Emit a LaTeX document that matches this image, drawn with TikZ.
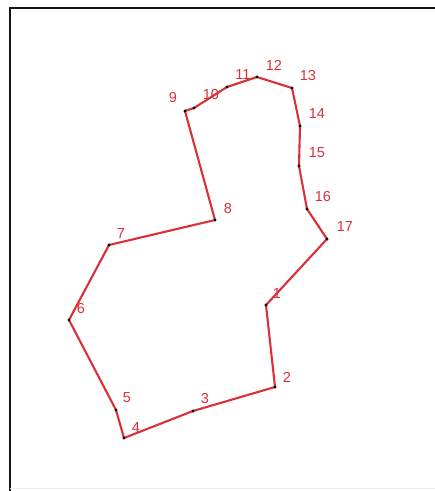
\documentclass[tikz,border=0pt]{standalone}
\usepackage{fontspec}
\setmainfont{Liberation Sans}
\usepackage{tikz}
\usetikzlibrary{calc}
\definecolor{routered}{RGB}{218, 48, 56}
\definecolor{framedark}{RGB}{20, 20, 20}

\begin{document}
\begin{tikzpicture}[x=1pt, y=-1pt,
  stoplabel/.style={text=routered, font=\fontsize{14.5}{14.5}\selectfont, inner sep=0pt}]
  \useasboundingbox (0,0) rectangle (435,491);
  % Frame - left and top edges only
  \draw[framedark, line width=2.4pt] (10,491) -- (10,8) -- (435,8);
  \draw[gray!15, thin] (10,488.5) -- (435,488.5);
  % Stops of the route
  \foreach \i/\x/\y in {1/266/305, 2/275/387, 3/193/411, 4/124/438, 5/116/410,
                        6/69/320, 7/109/245, 8/215/220, 9/185/111, 10/194/108,
                        11/227/87, 12/257/77, 13/292/88, 14/300/126, 15/299/166,
                        16/307/209, 17/327/239} {
    \coordinate (p\i) at (\x,\y);
  }
  % The closed route
  \draw[routered, line width=2.1pt, line join=round]
    (p1) -- (p2) -- (p3) -- (p4) -- (p5) -- (p6) -- (p7) -- (p8) -- (p9) -- (p10)
    -- (p11) -- (p12) -- (p13) -- (p14) -- (p15) -- (p16) -- (p17) -- cycle;
  % Stop markers
  \foreach \i in {1,...,17} {
    \fill[black] (p\i) circle (1.7pt);
  }
  % Stop numbers
  \foreach \i/\x/\y in {1/277/294, 2/287/377, 3/205/399, 4/136/428, 5/127/398,
                        6/81/309, 7/121/234, 8/228/209, 9/173/98, 10/211/95,
                        11/243/75, 12/274/65, 13/308/76, 14/317/114, 15/317/153,
                        16/323/197, 17/345/227} {
    \node[stoplabel] (n\i) at (\x,\y) {\i};
  }
\end{tikzpicture}
\end{document}
